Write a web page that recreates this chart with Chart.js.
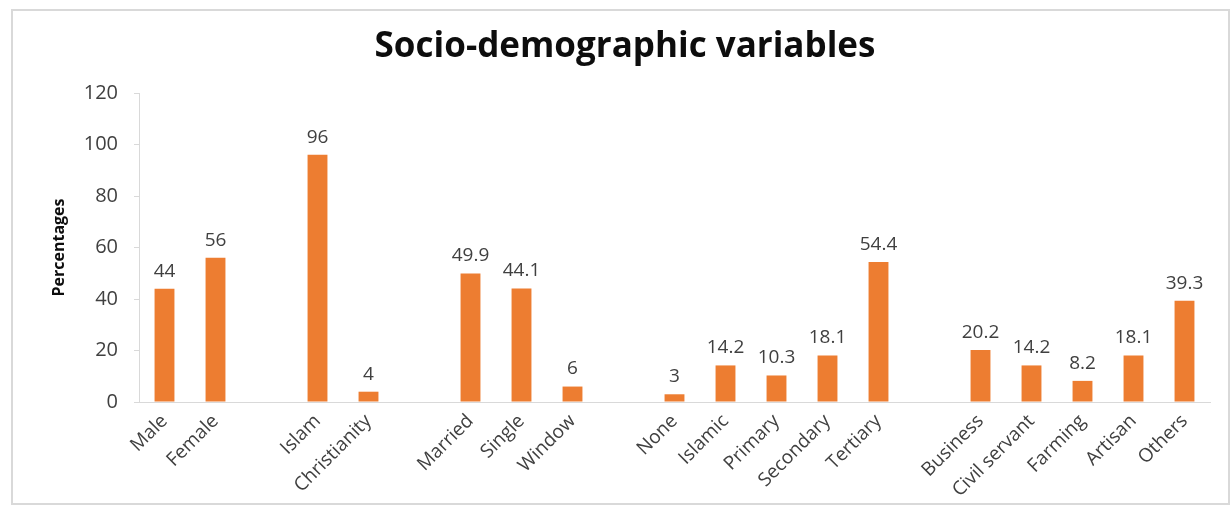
<!DOCTYPE html>
<html>
<head>
<meta charset="utf-8">
<script src="https://cdn.jsdelivr.net/npm/chart.js@4"></script>
<style>
  body { margin: 0; background: #fff; }
  #wrap { position: absolute; left: 0; top: 0; width: 1231px; height: 508px; }
  #frame {
    position: absolute; left: 11px; top: 9px; width: 1219px; height: 496px;
    box-sizing: border-box; border: 2px solid #d9d9d9; pointer-events: none;
  }
</style>
</head>
<body>
<div id="wrap"><canvas id="demoChart"></canvas></div>
<div id="frame"></div>
<script>
// gaps between groups are empty categories
const categories = ['Male', 'Female', '', 'Islam', 'Christianity', '', 'Married', 'Single', 'Window', '',
  'None', 'Islamic', 'Primary', 'Secondary', 'Tertiary', '', 'Business', 'Civil servant', 'Farming', 'Artisan', 'Others'];
const percentages = [44, 56, null, 96, 4, null, 49.9, 44.1, 6, null,
  3, 14.2, 10.3, 18.1, 54.4, null, 20.2, 14.2, 8.2, 18.1, 39.3];
const yTicks = [0, 20, 40, 60, 80, 100, 120];

const fontFamily = '"Open Sans", sans-serif';

// value labels above the bars
const barLabels = {
  id: 'barLabels',
  afterDatasetsDraw(chart) {
    const ctx = chart.ctx;
    const meta = chart.getDatasetMeta(0);
    ctx.save();
    ctx.font = '19px ' + fontFamily;
    ctx.fillStyle = '#404040';
    ctx.textAlign = 'center';
    ctx.textBaseline = 'bottom';
    meta.data.forEach((bar, i) => {
      const v = percentages[i];
      if (v === null) return;
      ctx.fillText(String(v), bar.x, bar.y - 8);
    });
    ctx.restore();
  }
};

new Chart(document.getElementById('demoChart'), {
  type: 'bar',
  data: {
    labels: categories,
    datasets: [{
      data: percentages,
      backgroundColor: '#ED7D31',
      barPercentage: 0.39,
      categoryPercentage: 1
    }]
  },
  options: {
    responsive: true,
    maintainAspectRatio: false,
    animation: false,
    layout: { padding: { left: 40, right: 21, top: 0, bottom: 0 } },
    plugins: {
      legend: { display: false },
      tooltip: { enabled: false },
      title: {
        display: true,
        text: 'Socio-demographic variables',
        color: '#0d0d0d',
        font: { family: fontFamily, size: 35, weight: 'bold' },
        padding: { top: 26, bottom: 25 }
      }
    },
    scales: {
      x: {
        grid: { display: false },
        border: { display: true, color: '#d9d9d9', width: 1 },
        ticks: {
          autoSkip: false,
          minRotation: 45,
          maxRotation: 45,
          padding: 0,
          color: '#404040',
          font: { family: fontFamily, size: 19 }
        },
        afterFit(scale) { scale.height = 106; }
      },
      y: {
        min: 0,
        max: 120,
        afterBuildTicks(scale) { scale.ticks = yTicks.map(v => ({ value: v })); },
        grid: { drawOnChartArea: false, drawTicks: true, tickLength: 5, color: '#d9d9d9' },
        border: { display: true, color: '#d9d9d9', width: 1 },
        ticks: {
          padding: 16,
          color: '#404040',
          font: { family: fontFamily, size: 20 }
        },
        title: {
          display: true,
          text: 'Percentages',
          color: '#0d0d0d',
          font: { family: fontFamily, size: 16, weight: 'bold' },
          padding: { top: 10, bottom: 0 }
        },
        afterFit(scale) { scale.width = 99; }
      }
    }
  },
  plugins: [barLabels]
});
</script>
</body>
</html>
